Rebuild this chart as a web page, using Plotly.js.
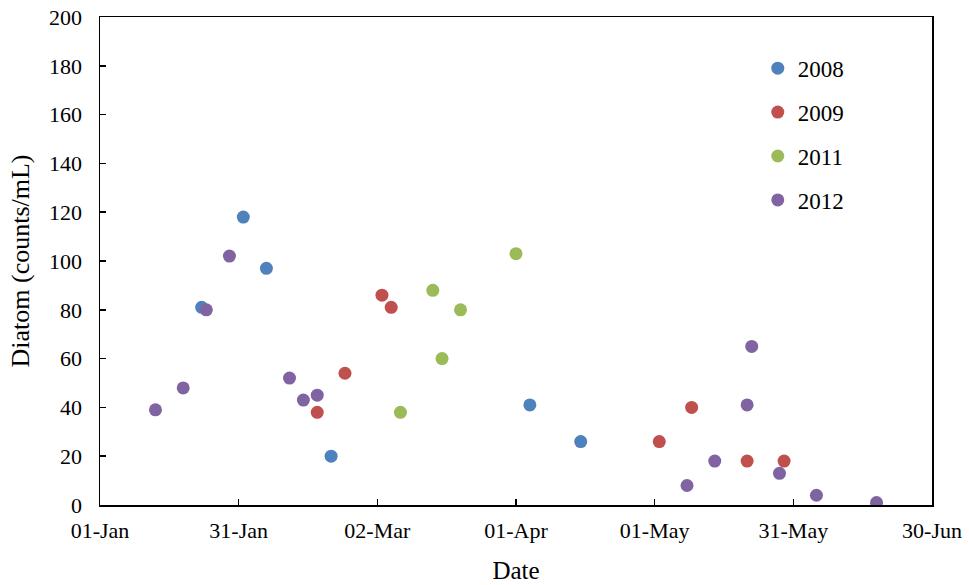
<!DOCTYPE html>
<html>
<head>
<meta charset="utf-8">
<script src="https://cdn.plot.ly/plotly-3.0.1.min.js"></script>
<style>html,body{margin:0;padding:0;background:#fff;}#chart{width:969px;height:585px;}</style>
</head>
<body>
<div id="chart"></div>
<script>
// Series data (dates mapped onto one non-leap year)
const seriesNames = ["2008", "2009", "2011", "2012"];
const dates2008 = ["2001-01-23", "2001-02-01", "2001-02-06", "2001-02-20", "2001-04-04", "2001-04-15"];
const values2008 = [81, 118, 97, 20, 41, 26];
const dates2009 = ["2001-02-17", "2001-02-23", "2001-03-03", "2001-03-05", "2001-05-02", "2001-05-09", "2001-05-21", "2001-05-29"];
const values2009 = [38, 54, 86, 81, 26, 40, 18, 18];
const dates2011 = ["2001-03-07", "2001-03-14", "2001-03-16", "2001-03-20", "2001-04-01"];
const values2011 = [38, 88, 60, 80, 103];
const dates2012 = ["2001-01-13", "2001-01-19", "2001-01-24", "2001-01-29", "2001-02-11", "2001-02-14", "2001-02-17", "2001-05-08", "2001-05-14", "2001-05-21", "2001-05-22", "2001-05-28", "2001-06-05", "2001-06-18"];
const values2012 = [39, 48, 80, 102, 52, 43, 45, 8, 18, 41, 65, 13, 4, 1];
const xTickVals = ["2001-01-01", "2001-01-31", "2001-03-02", "2001-04-01", "2001-05-01", "2001-05-31", "2001-06-30"];
const xTickLabels = ["01-Jan", "31-Jan", "02-Mar", "01-Apr", "01-May", "31-May", "30-Jun"];
const yTickVals = [0, 20, 40, 60, 80, 100, 120, 140, 160, 180, 200];

const colors = ["#4F81BD", "#C0504D", "#9BBB59", "#8064A2"];
const xs = [dates2008, dates2009, dates2011, dates2012];
const ys = [values2008, values2009, values2011, values2012];

const traces = seriesNames.map((n, i) => ({
  type: "scatter", mode: "markers", name: n,
  x: xs[i], y: ys[i], legendgroup: n,
  marker: {color: colors[i], size: 13, line: {width: 0}}
}));

const font = {family: "'Liberation Serif', 'Times New Roman', serif", color: "#000"};
const layout = {
  width: 969, height: 585,
  margin: {l: 100, r: 37, t: 17, b: 80},
  paper_bgcolor: "#fff", plot_bgcolor: "#fff",
  font: Object.assign({size: 22}, font),
  showlegend: true,
  legend: {
    x: 0.7906, y: 0.939, xanchor: "left", yanchor: "top",
    font: Object.assign({size: 23}, font),
    tracegroupgap: 11, itemwidth: 30, bgcolor: "rgba(0,0,0,0)"
  },
  xaxis: {
    type: "date",
    range: ["2001-01-01", "2001-06-30"],
    tickvals: xTickVals, ticktext: xTickLabels,
    ticks: "inside", ticklen: 6, tickwidth: 1.5, tickcolor: "#000",
    showline: true, linecolor: "#000", linewidth: 1.5, mirror: true,
    showgrid: false, zeroline: false,
    tickfont: Object.assign({size: 22}, font),
    ticklabelstandoff: 5,
    title: {text: "Date", font: Object.assign({size: 25}, font), standoff: 19}
  },
  yaxis: {
    range: [0, 200],
    tickvals: yTickVals,
    ticks: "inside", ticklen: 6, tickwidth: 1.5, tickcolor: "#000",
    showline: true, linecolor: "#000", linewidth: 1.5, mirror: true,
    showgrid: false, zeroline: false,
    tickfont: Object.assign({size: 22}, font),
    ticklabelstandoff: 12,
    title: {text: "Diatom (counts/mL)", font: Object.assign({size: 26}, font), standoff: 12}
  }
};

Plotly.newPlot("chart", traces, layout, {displayModeBar: false, staticPlot: true});
</script>
</body>
</html>
